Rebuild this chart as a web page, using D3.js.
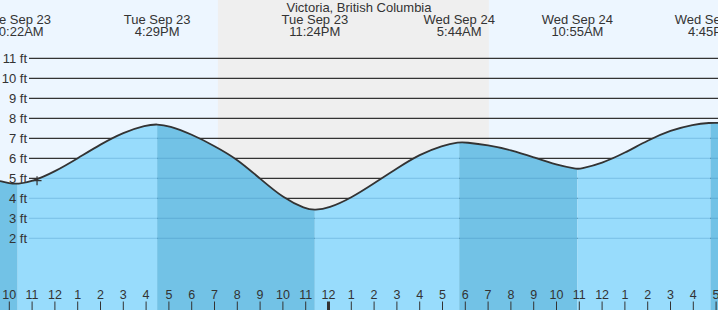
<!DOCTYPE html>
<html>
<head>
<meta charset="utf-8">
<script src="https://cdn.jsdelivr.net/npm/d3@7"></script>
<style>
  body { margin: 0; background: #fff; }
  svg { display: block; font-family: "Liberation Sans", Arial, sans-serif; }
</style>
</head>
<body>
<div id="chart"></div>
<script>
var chartTitle = "Victoria, British Columbia";

// water level, hourly plus the turning points (time, feet)
var tideTimes = ["2025-09-23 09:35", "2025-09-23 10:00", "2025-09-23 10:22", "2025-09-23 11:00",
                 "2025-09-23 12:00", "2025-09-23 13:00", "2025-09-23 14:00", "2025-09-23 15:00",
                 "2025-09-23 16:00", "2025-09-23 16:29", "2025-09-23 17:00", "2025-09-23 18:00",
                 "2025-09-23 19:00", "2025-09-23 20:00", "2025-09-23 21:00", "2025-09-23 22:00",
                 "2025-09-23 23:00", "2025-09-23 23:24", "2025-09-24 00:00", "2025-09-24 01:00",
                 "2025-09-24 02:00", "2025-09-24 03:00", "2025-09-24 04:00", "2025-09-24 05:00",
                 "2025-09-24 05:44", "2025-09-24 06:00", "2025-09-24 07:00", "2025-09-24 08:00",
                 "2025-09-24 09:00", "2025-09-24 10:00", "2025-09-24 10:55", "2025-09-24 11:00",
                 "2025-09-24 12:00", "2025-09-24 13:00", "2025-09-24 14:00", "2025-09-24 15:00",
                 "2025-09-24 16:00", "2025-09-24 16:45", "2025-09-24 17:05"];
var tideFeet = [4.86, 4.75, 4.71, 4.83,
                5.33, 6.0, 6.7, 7.3,
                7.66, 7.71, 7.63, 7.2,
                6.62, 5.96, 4.98, 4.02,
                3.46, 3.41, 3.5, 4.02,
                4.75, 5.5, 6.2, 6.65,
                6.81, 6.8, 6.66, 6.42,
                6.05, 5.66, 5.46, 5.46,
                5.75, 6.27, 6.9, 7.4,
                7.7, 7.78, 7.77];

// high / low tide events
var extremeTimes = ["2025-09-23 10:22", "2025-09-23 16:29", "2025-09-23 23:24",
                    "2025-09-24 05:44", "2025-09-24 10:55", "2025-09-24 16:45"];
var extremeTypes = ["L", "H", "L", "H", "L", "H"];
var extremeDays = ["Tue Sep 23", "Tue Sep 23", "Tue Sep 23", "Wed Sep 24", "Wed Sep 24", "Wed Sep 24"];
var extremeClock = ["10:22AM", "4:29PM", "11:24PM", "5:44AM", "10:55AM", "4:45PM"];

var nightStart = "2025-09-23 19:09";
var nightEnd = "2025-09-24 07:02";
var nowTime = "2025-09-23 11:13";

var feetTicks = [2, 3, 4, 5, 6, 7, 8, 9, 10, 11];

var width = 718, height = 310;
var parse = d3.timeParse("%Y-%m-%d %H:%M");

var x = d3.scaleTime()
  .domain([parse("2025-09-23 10:00"), parse("2025-09-24 17:00")])
  .range([9.3, 716.1]);
var y = d3.scaleLinear().domain([0, 11]).range([278.3, 58.3]);

var tide = tideTimes.map(function (t, i) { return { t: parse(t), ft: tideFeet[i] }; });
var smooth = d3.curveBasis;

var svg = d3.select("#chart").append("svg")
  .attr("width", width)
  .attr("height", height);

// day / night background
svg.append("rect").attr("width", width).attr("height", height).attr("fill", "#edf6ff");
svg.append("rect")
  .attr("x", x(parse(nightStart)))
  .attr("width", x(parse(nightEnd)) - x(parse(nightStart)))
  .attr("height", height)
  .attr("fill", "#efefef");

// grid lines above water
svg.append("g").selectAll("line")
  .data(feetTicks).enter()
  .append("line")
  .attr("x1", 29).attr("x2", width)
  .attr("y1", function (d) { return y(d); })
  .attr("y2", function (d) { return y(d); })
  .attr("stroke", "#333")
  .attr("stroke-width", 1.2);

var area = d3.area()
  .x(function (d) { return x(d.t); })
  .y0(height)
  .y1(function (d) { return y(d.ft); })
  .curve(smooth);

svg.append("clipPath").attr("id", "water")
  .append("path").attr("d", area(tide));

var water = svg.append("g").attr("clip-path", "url(#water)");

// rising (light) and falling (dark) bands
var edges = [x.invert(0)].concat(extremeTimes.map(parse)).concat([x.invert(width)]);
var bands = [];
for (var k = 0; k < edges.length - 1; k++) {
  var falling = (k < extremeTypes.length) ? extremeTypes[k] == "L" : extremeTypes[k - 1] == "H";
  bands.push({ a: edges[k], b: edges[k + 1], falling: falling });
}
water.selectAll("rect")
  .data(bands).enter()
  .append("rect")
  .attr("x", function (d) { return x(d.a); })
  .attr("width", function (d) { return x(d.b) - x(d.a); })
  .attr("y", 0)
  .attr("height", height)
  .attr("fill", function (d) { return d.falling ? "#72c2e6" : "#98dcfc"; });

// grid lines under water
water.selectAll("line")
  .data(feetTicks).enter()
  .append("line")
  .attr("x1", 29).attr("x2", width)
  .attr("y1", function (d) { return y(d); })
  .attr("y2", function (d) { return y(d); })
  .attr("stroke", "rgba(40,120,175,0.22)")
  .attr("stroke-width", 1.2);

// water surface
svg.append("path")
  .attr("d", d3.line()
    .x(function (d) { return x(d.t); })
    .y(function (d) { return y(d.ft); })
    .curve(smooth)(tide))
  .attr("fill", "none")
  .attr("stroke", "#333")
  .attr("stroke-width", 1.8);

// feet labels
svg.append("g").selectAll("text")
  .data(feetTicks).enter()
  .append("text")
  .attr("x", 27)
  .attr("y", function (d) { return y(d) + 4.5; })
  .attr("text-anchor", "end")
  .attr("font-size", "13px")
  .attr("fill", "#333")
  .text(function (d) { return d + " ft"; });

// current time marker
var nowX = x(parse(nowTime)), nowY = 180.7;
svg.append("path")
  .attr("d", "M" + (nowX - 4.5) + "," + nowY + "H" + (nowX + 4.5) +
             "M" + nowX + "," + (nowY - 4.5) + "V" + (nowY + 4.5))
  .attr("stroke", "#333")
  .attr("stroke-width", 1.2);

// hour axis
var hours = d3.timeHour.range(parse("2025-09-23 10:00"), parse("2025-09-24 17:01"));
var axis = svg.append("g");
axis.selectAll("line")
  .data(hours).enter()
  .append("line")
  .attr("x1", function (d) { return x(d); })
  .attr("x2", function (d) { return x(d); })
  .attr("y1", 301.5).attr("y2", height)
  .attr("stroke", "#333")
  .attr("stroke-width", function (d) { return d.getHours() == 0 ? 3 : 1; });
axis.selectAll("text")
  .data(hours).enter()
  .append("text")
  .attr("x", function (d) { return x(d); })
  .attr("y", 299)
  .attr("text-anchor", "middle")
  .attr("font-size", "12.5px")
  .attr("fill", "#333")
  .text(d3.timeFormat("%-I"));

// title and tide event labels
svg.append("text")
  .attr("x", width / 2).attr("y", 12)
  .attr("text-anchor", "middle")
  .attr("font-size", "13px")
  .attr("fill", "#333")
  .text(chartTitle);

var ev = svg.append("g").selectAll("text")
  .data(extremeTimes).enter()
  .append("text")
  .attr("text-anchor", "middle")
  .attr("font-size", "13px")
  .attr("fill", "#333");
ev.append("tspan")
  .attr("x", function (d) { return x(parse(d)); })
  .attr("y", 24)
  .text(function (d, i) { return extremeDays[i]; });
ev.append("tspan")
  .attr("x", function (d) { return x(parse(d)); })
  .attr("y", 36)
  .text(function (d, i) { return extremeClock[i]; });
</script>
</body>
</html>
